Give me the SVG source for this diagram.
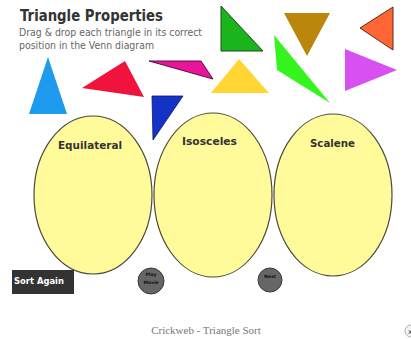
<svg xmlns="http://www.w3.org/2000/svg" width="411" height="339" viewBox="0 0 411 339">
<style>
.tri{stroke-linejoin:round}
.ell{fill:#FFFA9A;stroke:#4a4a3a;stroke-width:1.2}
.lbl{font-family:"DejaVu Sans",Verdana,sans-serif;font-weight:bold;font-size:11px;fill:#333}
.btn{fill:#666;stroke:#3a3a3a;stroke-width:1}
.btnt{font-family:"DejaVu Sans",Verdana,sans-serif;font-weight:bold;font-size:4.5px;fill:#111;text-anchor:middle}
</style>
<rect width="411" height="339" fill="#ffffff"/>
<g id="title">
<text x="20" y="21" font-family="DejaVu Sans, Verdana, sans-serif" font-weight="bold" font-size="15" fill="#333" textLength="143" lengthAdjust="spacingAndGlyphs">Triangle Properties</text>
<text x="19" y="36" font-family="DejaVu Sans, Verdana, sans-serif" font-size="10" fill="#666" textLength="183" lengthAdjust="spacingAndGlyphs">Drag &amp; drop each triangle in its correct</text>
<text x="19" y="49" font-family="DejaVu Sans, Verdana, sans-serif" font-size="10" fill="#666" textLength="135" lengthAdjust="spacingAndGlyphs">position in the Venn diagram</text>
</g>
<g id="triangles">
<polygon id="tri-blue" class="tri" points="48,57 29,114 67,114" fill="#1E9BEF"/>
<polygon id="tri-red" class="tri" points="125,61 82,88 144,97" fill="#F0143C"/>
<polygon id="tri-magenta" class="tri" points="149,61 201,61 213,79" fill="#E8149A" stroke="#5a1040" stroke-width="1"/>
<polygon id="tri-darkblue" class="tri" points="152,96 183,96 153,140" fill="#1432C6" stroke="#0a1a60" stroke-width="0.8"/>
<polygon id="tri-green" class="tri" points="221,6 221,51 263,51" fill="#1CB41C" stroke="#1a4a1a" stroke-width="1"/>
<polygon id="tri-brown" class="tri" points="284,13 330,13 307,56" fill="#BA860C"/>
<polygon id="tri-orange" class="tri" points="393,7 393,50 360,28" fill="#FF6633" stroke="#5a2a1a" stroke-width="1"/>
<polygon id="tri-lime" class="tri" points="274,35 277,70 330,103" fill="#36F51E"/>
<polygon id="tri-purple" class="tri" points="345,49 345,91 397,70" fill="#D84FF2"/>
<polygon id="tri-yellow" class="tri" points="239,59 211,93 269,93" fill="#FFD633"/>
</g>
<g id="equilateral">
<ellipse class="ell" cx="93" cy="195" rx="59" ry="79"/>
<text class="lbl" x="58" y="149" textLength="64" lengthAdjust="spacingAndGlyphs">Equilateral</text>
</g>
<g id="isosceles">
<ellipse class="ell" cx="213" cy="195" rx="59" ry="82"/>
<text class="lbl" x="182" y="145" textLength="55" lengthAdjust="spacingAndGlyphs">Isosceles</text>
</g>
<g id="scalene">
<ellipse class="ell" cx="333" cy="195" rx="59" ry="81"/>
<text class="lbl" x="310" y="147" textLength="45" lengthAdjust="spacingAndGlyphs">Scalene</text>
</g>
<g id="sort-again">
<rect x="12" y="270" width="62" height="24" fill="#333"/>
<text x="14" y="284" font-family="DejaVu Sans, Verdana, sans-serif" font-weight="bold" font-size="9.5" fill="#fff" textLength="50" lengthAdjust="spacingAndGlyphs">Sort Again</text>
</g>
<g id="play-movie">
<circle class="btn" cx="151" cy="281" r="13"/>
<text class="btnt" x="151" y="276">Play</text>
<text class="btnt" x="151" y="284">Movie</text>
</g>
<g id="next">
<circle class="btn" cx="270" cy="280" r="12"/>
<text class="btnt" x="270" y="278">Next</text>
</g>
<g id="footer">
<text x="206" y="334" font-family="Liberation Serif, Times New Roman, serif" font-size="11" fill="#777" text-anchor="middle">Crickweb - Triangle Sort</text>
</g>
<g id="close">
<circle cx="411" cy="331" r="6" fill="#f4f4f4" stroke="#aaa" stroke-width="1"/>
<text x="408" y="334" font-family="DejaVu Sans, sans-serif" font-size="7" fill="#333">x</text>
</g>
</svg>
